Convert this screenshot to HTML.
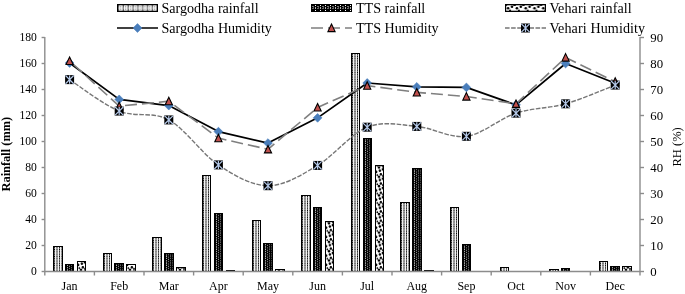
<!DOCTYPE html>
<html><head><meta charset="utf-8"><style>
html,body{margin:0;padding:0;background:#fff;width:685px;height:294px;overflow:hidden}
svg{display:block;font-family:"Liberation Serif",serif;will-change:transform}
</style></head><body>
<svg width="685" height="294" viewBox="0 0 685 294"><defs>
<pattern id="pS" patternUnits="userSpaceOnUse" width="5" height="2.3">
<rect width="5" height="2.3" fill="#f2f2f2"/>
<rect x="0" y="0" width="1" height="2.3" fill="#999"/>
<rect x="0" y="0.6" width="1" height="1.1" fill="#000"/>
<rect x="2" y="0" width="2" height="2.3" fill="#d0d0d0"/>
<rect x="2" y="0.4" width="2" height="1.5" fill="#707070"/>
</pattern>
<pattern id="pT" patternUnits="userSpaceOnUse" width="20" height="2.3">
<rect width="20" height="2.3" fill="#000"/>
<rect x="1" y="0.3" width="1" height="1.1" fill="#e8e8e8"/>
<rect x="3" y="1.3" width="1" height="1" fill="#9a9a9a"/>
<rect x="5" y="0.2" width="1" height="1.1" fill="#8a8a8a"/>
<rect x="7" y="0.2" width="1" height="1.1" fill="#666"/>
</pattern>
<pattern id="pV" patternUnits="userSpaceOnUse" width="20" height="9.3">
<rect width="20" height="9.3" fill="#fff"/>
<circle cx="3.0" cy="0.2" r="1.25" fill="#000"/>
<circle cx="3.0" cy="9.5" r="1.25" fill="#000"/>
<circle cx="3.9" cy="3.3" r="1.25" fill="#000"/>
<circle cx="4.9" cy="6.9" r="1.25" fill="#000"/>
<circle cx="0" cy="4.5" r="1.4" fill="#000"/>
<circle cx="7" cy="1.9" r="1.4" fill="#000"/>
<circle cx="7" cy="8.4" r="1.0" fill="#000"/>
<circle cx="1.3" cy="7.6" r="0.9" fill="#000"/>
</pattern>
<pattern id="LS" patternUnits="userSpaceOnUse" width="4.85" height="20">
<rect width="4.85" height="20" fill="#fff"/>
<rect x="0" y="0" width="0.8" height="20" fill="#444"/>
<circle cx="0.4" cy="8" r="0.5" fill="#ccc"/>
<rect x="1.8" y="6.3" width="1.4" height="1.1" fill="#8a8a8a"/>
<rect x="1.8" y="8.6" width="1.4" height="1.1" fill="#8a8a8a"/>
<rect x="4.2" y="0" width="0.6" height="20" fill="#999"/>
</pattern>
<pattern id="LT" patternUnits="userSpaceOnUse" width="5" height="20">
<rect width="5" height="20" fill="#000"/>
<rect x="3" y="5" width="1" height="1" fill="#fff"/>
<rect x="3" y="10" width="1" height="1" fill="#fff"/>
<rect x="3" y="7" width="1" height="2" fill="#b0b0b0"/>
<rect x="0" y="6" width="2" height="1" fill="#777"/>
<rect x="0" y="8" width="2" height="1" fill="#666"/>
<rect x="1" y="7" width="1" height="1" fill="#555"/>
</pattern>
<pattern id="LV" patternUnits="userSpaceOnUse" width="8.8" height="20">
<rect width="8.8" height="20" fill="#fff"/>
<circle cx="1.9" cy="8.2" r="1.3" fill="#000"/>
<circle cx="5.8" cy="6.8" r="1.3" fill="#000"/>
<circle cx="3.9" cy="10.6" r="1.0" fill="#000"/>
<circle cx="8.0" cy="5.2" r="0.9" fill="#000"/>
<circle cx="0.2" cy="5.3" r="0.7" fill="#000"/>
</pattern>
</defs>
<rect x="53" y="246" width="10" height="26" fill="#000"/>
<rect transform="translate(54,0)" x="0" y="247" width="8" height="25" fill="url(#pS)"/>
<rect x="103" y="253" width="9" height="19" fill="#000"/>
<rect transform="translate(104,0)" x="0" y="254" width="7" height="18" fill="url(#pS)"/>
<rect x="152" y="237" width="10" height="35" fill="#000"/>
<rect transform="translate(153,0)" x="0" y="238" width="8" height="34" fill="url(#pS)"/>
<rect x="202" y="175" width="9" height="97" fill="#000"/>
<rect transform="translate(203,0)" x="0" y="176" width="7" height="96" fill="url(#pS)"/>
<rect x="252" y="220" width="9" height="52" fill="#000"/>
<rect transform="translate(253,0)" x="0" y="221" width="7" height="51" fill="url(#pS)"/>
<rect x="301" y="195" width="10" height="77" fill="#000"/>
<rect transform="translate(302,0)" x="0" y="196" width="8" height="76" fill="url(#pS)"/>
<rect x="351" y="53" width="9" height="219" fill="#000"/>
<rect transform="translate(352,0)" x="0" y="54" width="7" height="218" fill="url(#pS)"/>
<rect x="400" y="202" width="10" height="70" fill="#000"/>
<rect transform="translate(401,0)" x="0" y="203" width="8" height="69" fill="url(#pS)"/>
<rect x="450" y="207" width="9" height="65" fill="#000"/>
<rect transform="translate(451,0)" x="0" y="208" width="7" height="64" fill="url(#pS)"/>
<rect x="500" y="267" width="9" height="5" fill="#000"/>
<rect transform="translate(501,0)" x="0" y="268" width="7" height="4" fill="url(#pS)"/>
<rect x="549" y="269" width="10" height="3" fill="#000"/>
<rect transform="translate(550,0)" x="0" y="270" width="8" height="2" fill="url(#pS)"/>
<rect x="599" y="261" width="9" height="11" fill="#000"/>
<rect transform="translate(600,0)" x="0" y="262" width="7" height="10" fill="url(#pS)"/>
<rect x="65" y="264" width="9" height="8" fill="#000"/>
<rect transform="translate(66,0)" x="0" y="265" width="7" height="7" fill="url(#pT)"/>
<rect x="114" y="263" width="10" height="9" fill="#000"/>
<rect transform="translate(115,0)" x="0" y="264" width="8" height="8" fill="url(#pT)"/>
<rect x="164" y="253" width="10" height="19" fill="#000"/>
<rect transform="translate(165,0)" x="0" y="254" width="8" height="18" fill="url(#pT)"/>
<rect x="214" y="213" width="9" height="59" fill="#000"/>
<rect transform="translate(215,0)" x="0" y="214" width="7" height="58" fill="url(#pT)"/>
<rect x="263" y="243" width="10" height="29" fill="#000"/>
<rect transform="translate(264,0)" x="0" y="244" width="8" height="28" fill="url(#pT)"/>
<rect x="313" y="207" width="9" height="65" fill="#000"/>
<rect transform="translate(314,0)" x="0" y="208" width="7" height="64" fill="url(#pT)"/>
<rect x="363" y="138" width="9" height="134" fill="#000"/>
<rect transform="translate(364,0)" x="0" y="139" width="7" height="133" fill="url(#pT)"/>
<rect x="412" y="168" width="10" height="104" fill="#000"/>
<rect transform="translate(413,0)" x="0" y="169" width="8" height="103" fill="url(#pT)"/>
<rect x="462" y="244" width="9" height="28" fill="#000"/>
<rect transform="translate(463,0)" x="0" y="245" width="7" height="27" fill="url(#pT)"/>
<rect x="511" y="271" width="10" height="1" fill="#000"/>
<rect x="561" y="268" width="9" height="4" fill="#000"/>
<rect transform="translate(562,0)" x="0" y="269" width="7" height="3" fill="url(#pT)"/>
<rect x="610" y="266" width="10" height="6" fill="#000"/>
<rect transform="translate(611,0)" x="0" y="267" width="8" height="5" fill="url(#pT)"/>
<rect x="77" y="261" width="9" height="11" fill="#000"/>
<rect transform="translate(78,0)" x="0" y="262" width="7" height="10" fill="url(#pV)"/>
<rect x="126" y="264" width="10" height="8" fill="#000"/>
<rect transform="translate(127,0)" x="0" y="265" width="8" height="7" fill="url(#pV)"/>
<rect x="176" y="267" width="10" height="5" fill="#000"/>
<rect transform="translate(177,0)" x="0" y="268" width="8" height="4" fill="url(#pV)"/>
<rect x="226" y="270" width="9" height="2" fill="#000"/>
<rect x="275" y="269" width="10" height="3" fill="#000"/>
<rect transform="translate(276,0)" x="0" y="270" width="8" height="2" fill="url(#pV)"/>
<rect x="325" y="221" width="9" height="51" fill="#000"/>
<rect transform="translate(326,0)" x="0" y="222" width="7" height="50" fill="url(#pV)"/>
<rect x="375" y="165" width="9" height="107" fill="#000"/>
<rect transform="translate(376,0)" x="0" y="166" width="7" height="106" fill="url(#pV)"/>
<rect x="424" y="270" width="10" height="2" fill="#000"/>
<rect x="622" y="266" width="10" height="6" fill="#000"/>
<rect transform="translate(623,0)" x="0" y="267" width="8" height="5" fill="url(#pV)"/>
<g stroke="#8c8c8c" stroke-width="1.4" fill="none">
<line x1="44.8" y1="37" x2="44.8" y2="275.5"/>
<line x1="640" y1="37" x2="640" y2="275.5"/>
<line x1="44.8" y1="271.5" x2="640" y2="271.5"/>
<line x1="41.6" y1="271.5" x2="44.8" y2="271.5"/>
<line x1="41.6" y1="245.5" x2="44.8" y2="245.5"/>
<line x1="41.6" y1="219.5" x2="44.8" y2="219.5"/>
<line x1="41.6" y1="193.5" x2="44.8" y2="193.5"/>
<line x1="41.6" y1="167.5" x2="44.8" y2="167.5"/>
<line x1="41.6" y1="141.5" x2="44.8" y2="141.5"/>
<line x1="41.6" y1="115.5" x2="44.8" y2="115.5"/>
<line x1="41.6" y1="89.5" x2="44.8" y2="89.5"/>
<line x1="41.6" y1="63.5" x2="44.8" y2="63.5"/>
<line x1="41.6" y1="37.5" x2="44.8" y2="37.5"/>
<line x1="640" y1="271.5" x2="644" y2="271.5"/>
<line x1="640" y1="245.5" x2="644" y2="245.5"/>
<line x1="640" y1="219.5" x2="644" y2="219.5"/>
<line x1="640" y1="193.5" x2="644" y2="193.5"/>
<line x1="640" y1="167.5" x2="644" y2="167.5"/>
<line x1="640" y1="141.5" x2="644" y2="141.5"/>
<line x1="640" y1="115.5" x2="644" y2="115.5"/>
<line x1="640" y1="89.5" x2="644" y2="89.5"/>
<line x1="640" y1="63.5" x2="644" y2="63.5"/>
<line x1="640" y1="37.5" x2="644" y2="37.5"/>
<line x1="94.4" y1="271.5" x2="94.4" y2="275.5"/>
<line x1="144" y1="271.5" x2="144" y2="275.5"/>
<line x1="193.6" y1="271.5" x2="193.6" y2="275.5"/>
<line x1="243.2" y1="271.5" x2="243.2" y2="275.5"/>
<line x1="292.8" y1="271.5" x2="292.8" y2="275.5"/>
<line x1="342.4" y1="271.5" x2="342.4" y2="275.5"/>
<line x1="392" y1="271.5" x2="392" y2="275.5"/>
<line x1="441.6" y1="271.5" x2="441.6" y2="275.5"/>
<line x1="491.2" y1="271.5" x2="491.2" y2="275.5"/>
<line x1="540.8" y1="271.5" x2="540.8" y2="275.5"/>
<line x1="590.4" y1="271.5" x2="590.4" y2="275.5"/>
</g>
<polyline fill="none" stroke="#000" stroke-width="1.7" stroke-linejoin="round" points="69.6,62.98 119.2,99.38 168.8,105.62 218.4,131.62 268,143.06 317.6,117.84 367.2,83 416.8,86.9 466.4,87.42 516,104.84 565.6,63.5 615.2,83.26"/>
<polyline fill="none" stroke="#7f7f7f" stroke-width="1.6" stroke-dasharray="12 5" stroke-dashoffset="-5" points="69.6,60.9 119.2,106.14 168.8,101.2 218.4,138.12 268,149.3 317.6,107.44 367.2,85.6 416.8,92.36 466.4,96.52 516,103.8 565.6,57.52 615.2,81.7"/>
<path fill="none" stroke="#767676" stroke-width="1.4" stroke-dasharray="4.6 1.5" d="M69.6,79.62 C77.87,84.86 102.67,104.36 119.2,111.08 C135.73,117.8 152.27,110.95 168.8,119.92 C185.33,128.89 201.87,153.94 218.4,164.9 C234.93,175.86 251.47,185.61 268,185.7 C284.53,185.79 301.07,175.17 317.6,165.42 C334.13,155.67 350.67,133.7 367.2,127.2 C383.73,120.7 400.27,124.9 416.8,126.42 C433.33,127.94 449.87,138.51 466.4,136.3 C482.93,134.09 499.47,118.58 516,113.16 C532.53,107.74 549.07,108.48 565.6,103.8 C582.13,99.12 606.93,88.2 615.2,85.08"/>
<path d="M69.6,58.58 L74,62.98 L69.6,67.38 L65.2,62.98Z" fill="#4a7ebb" stroke="#4a7ebb" stroke-width="0.6"/>
<path d="M119.2,94.98 L123.6,99.38 L119.2,103.78 L114.8,99.38Z" fill="#4a7ebb" stroke="#4a7ebb" stroke-width="0.6"/>
<path d="M168.8,101.22 L173.2,105.62 L168.8,110.02 L164.4,105.62Z" fill="#4a7ebb" stroke="#4a7ebb" stroke-width="0.6"/>
<path d="M218.4,127.22 L222.8,131.62 L218.4,136.02 L214,131.62Z" fill="#4a7ebb" stroke="#4a7ebb" stroke-width="0.6"/>
<path d="M268,138.66 L272.4,143.06 L268,147.46 L263.6,143.06Z" fill="#4a7ebb" stroke="#4a7ebb" stroke-width="0.6"/>
<path d="M317.6,113.44 L322,117.84 L317.6,122.24 L313.2,117.84Z" fill="#4a7ebb" stroke="#4a7ebb" stroke-width="0.6"/>
<path d="M367.2,78.6 L371.6,83 L367.2,87.4 L362.8,83Z" fill="#4a7ebb" stroke="#4a7ebb" stroke-width="0.6"/>
<path d="M416.8,82.5 L421.2,86.9 L416.8,91.3 L412.4,86.9Z" fill="#4a7ebb" stroke="#4a7ebb" stroke-width="0.6"/>
<path d="M466.4,83.02 L470.8,87.42 L466.4,91.82 L462,87.42Z" fill="#4a7ebb" stroke="#4a7ebb" stroke-width="0.6"/>
<path d="M516,100.44 L520.4,104.84 L516,109.24 L511.6,104.84Z" fill="#4a7ebb" stroke="#4a7ebb" stroke-width="0.6"/>
<path d="M565.6,59.1 L570,63.5 L565.6,67.9 L561.2,63.5Z" fill="#4a7ebb" stroke="#4a7ebb" stroke-width="0.6"/>
<path d="M615.2,78.86 L619.6,83.26 L615.2,87.66 L610.8,83.26Z" fill="#4a7ebb" stroke="#4a7ebb" stroke-width="0.6"/>
<path d="M69.6,57 L73.2,64.5 L66,64.5Z" fill="#c0504d" stroke="#000" stroke-width="1.1" stroke-linejoin="miter"/>
<path d="M119.2,102.24 L122.8,109.74 L115.6,109.74Z" fill="#c0504d" stroke="#000" stroke-width="1.1" stroke-linejoin="miter"/>
<path d="M168.8,97.3 L172.4,104.8 L165.2,104.8Z" fill="#c0504d" stroke="#000" stroke-width="1.1" stroke-linejoin="miter"/>
<path d="M218.4,134.22 L222,141.72 L214.8,141.72Z" fill="#c0504d" stroke="#000" stroke-width="1.1" stroke-linejoin="miter"/>
<path d="M268,145.4 L271.6,152.9 L264.4,152.9Z" fill="#c0504d" stroke="#000" stroke-width="1.1" stroke-linejoin="miter"/>
<path d="M317.6,103.54 L321.2,111.04 L314,111.04Z" fill="#c0504d" stroke="#000" stroke-width="1.1" stroke-linejoin="miter"/>
<path d="M367.2,81.7 L370.8,89.2 L363.6,89.2Z" fill="#c0504d" stroke="#000" stroke-width="1.1" stroke-linejoin="miter"/>
<path d="M416.8,88.46 L420.4,95.96 L413.2,95.96Z" fill="#c0504d" stroke="#000" stroke-width="1.1" stroke-linejoin="miter"/>
<path d="M466.4,92.62 L470,100.12 L462.8,100.12Z" fill="#c0504d" stroke="#000" stroke-width="1.1" stroke-linejoin="miter"/>
<path d="M516,99.9 L519.6,107.4 L512.4,107.4Z" fill="#c0504d" stroke="#000" stroke-width="1.1" stroke-linejoin="miter"/>
<path d="M565.6,53.62 L569.2,61.12 L562,61.12Z" fill="#c0504d" stroke="#000" stroke-width="1.1" stroke-linejoin="miter"/>
<path d="M615.2,77.8 L618.8,85.3 L611.6,85.3Z" fill="#c0504d" stroke="#000" stroke-width="1.1" stroke-linejoin="miter"/>
<rect x="65.1" y="75.12" width="9" height="9" fill="#000"/><path d="M65.5,75.52 L73.7,83.72 M73.7,75.52 L65.5,83.72 M69.6,75.52 L69.6,83.72" stroke="#b4c8e8" stroke-width="1.2"/>
<rect x="114.7" y="106.58" width="9" height="9" fill="#000"/><path d="M115.1,106.98 L123.3,115.18 M123.3,106.98 L115.1,115.18 M119.2,106.98 L119.2,115.18" stroke="#b4c8e8" stroke-width="1.2"/>
<rect x="164.3" y="115.42" width="9" height="9" fill="#000"/><path d="M164.7,115.82 L172.9,124.02 M172.9,115.82 L164.7,124.02 M168.8,115.82 L168.8,124.02" stroke="#b4c8e8" stroke-width="1.2"/>
<rect x="213.9" y="160.4" width="9" height="9" fill="#000"/><path d="M214.3,160.8 L222.5,169 M222.5,160.8 L214.3,169 M218.4,160.8 L218.4,169" stroke="#b4c8e8" stroke-width="1.2"/>
<rect x="263.5" y="181.2" width="9" height="9" fill="#000"/><path d="M263.9,181.6 L272.1,189.8 M272.1,181.6 L263.9,189.8 M268,181.6 L268,189.8" stroke="#b4c8e8" stroke-width="1.2"/>
<rect x="313.1" y="160.92" width="9" height="9" fill="#000"/><path d="M313.5,161.32 L321.7,169.52 M321.7,161.32 L313.5,169.52 M317.6,161.32 L317.6,169.52" stroke="#b4c8e8" stroke-width="1.2"/>
<rect x="362.7" y="122.7" width="9" height="9" fill="#000"/><path d="M363.1,123.1 L371.3,131.3 M371.3,123.1 L363.1,131.3 M367.2,123.1 L367.2,131.3" stroke="#b4c8e8" stroke-width="1.2"/>
<rect x="412.3" y="121.92" width="9" height="9" fill="#000"/><path d="M412.7,122.32 L420.9,130.52 M420.9,122.32 L412.7,130.52 M416.8,122.32 L416.8,130.52" stroke="#b4c8e8" stroke-width="1.2"/>
<rect x="461.9" y="131.8" width="9" height="9" fill="#000"/><path d="M462.3,132.2 L470.5,140.4 M470.5,132.2 L462.3,140.4 M466.4,132.2 L466.4,140.4" stroke="#b4c8e8" stroke-width="1.2"/>
<rect x="511.5" y="108.66" width="9" height="9" fill="#000"/><path d="M511.9,109.06 L520.1,117.26 M520.1,109.06 L511.9,117.26 M516,109.06 L516,117.26" stroke="#b4c8e8" stroke-width="1.2"/>
<rect x="561.1" y="99.3" width="9" height="9" fill="#000"/><path d="M561.5,99.7 L569.7,107.9 M569.7,99.7 L561.5,107.9 M565.6,99.7 L565.6,107.9" stroke="#b4c8e8" stroke-width="1.2"/>
<rect x="610.7" y="80.58" width="9" height="9" fill="#000"/><path d="M611.1,80.98 L619.3,89.18 M619.3,80.98 L611.1,89.18 M615.2,80.98 L615.2,89.18" stroke="#b4c8e8" stroke-width="1.2"/>
<g font-family="Liberation Serif"  font-size="11.6" fill="#000" text-anchor="end">
<text x="36.9" y="275.2">0</text>
<text x="36.9" y="249.2">20</text>
<text x="36.9" y="223.2">40</text>
<text x="36.9" y="197.2">60</text>
<text x="36.9" y="171.2">80</text>
<text x="36.9" y="145.2">100</text>
<text x="36.9" y="119.2">120</text>
<text x="36.9" y="93.2">140</text>
<text x="36.9" y="67.2">160</text>
<text x="36.9" y="41.2">180</text>
</g>
<g font-family="Liberation Serif"  font-size="12.8" fill="#000" text-anchor="start">
<text x="650.3" y="275.6">0</text>
<text x="650.3" y="249.6">10</text>
<text x="650.3" y="223.6">20</text>
<text x="650.3" y="197.6">30</text>
<text x="650.3" y="171.6">40</text>
<text x="650.3" y="145.6">50</text>
<text x="650.3" y="119.6">60</text>
<text x="650.3" y="93.6">70</text>
<text x="650.3" y="67.6">80</text>
<text x="650.3" y="41.6">90</text>
</g>
<g font-family="Liberation Serif"  font-size="12" fill="#000" text-anchor="middle">
<text x="69.6" y="290">Jan</text>
<text x="119.2" y="290">Feb</text>
<text x="168.8" y="290">Mar</text>
<text x="218.4" y="290">Apr</text>
<text x="268" y="290">May</text>
<text x="317.6" y="290">Jun</text>
<text x="367.2" y="290">Jul</text>
<text x="416.8" y="290">Aug</text>
<text x="466.4" y="290">Sep</text>
<text x="516" y="290">Oct</text>
<text x="565.6" y="290">Nov</text>
<text x="615.2" y="290">Dec</text>
</g>
<text font-family="Liberation Serif"  font-size="12.4" font-weight="bold" transform="translate(10.2,191.5) rotate(-90)">Rainfall (mm)</text>
<text font-family="Liberation Serif"  font-size="12.5" transform="translate(680.5,166.5) rotate(-90)">RH (%)</text>
<rect x="117" y="4" width="41" height="8" fill="#000"/>
<rect transform="translate(118.2,0)" x="0" y="5.3" width="38.6" height="5.4" fill="url(#LS)"/>
<text font-family="Liberation Serif"  font-size="14.1" letter-spacing="0" x="161.4" y="13">Sargodha rainfall</text>
<text font-family="Liberation Serif"  font-size="14.1" letter-spacing="0" x="161.4" y="33">Sargodha Humidity</text>
<rect x="311" y="4" width="41" height="8" fill="#000"/>
<rect transform="translate(312,0)" x="0" y="5" width="39" height="6" fill="url(#LT)"/>
<text font-family="Liberation Serif"  font-size="14.1" letter-spacing="0" x="356" y="13">TTS rainfall</text>
<text font-family="Liberation Serif"  font-size="14.1" letter-spacing="0" x="356" y="33">TTS Humidity</text>
<rect x="505" y="4" width="41" height="8" fill="#000"/>
<rect transform="translate(506.2,0)" x="0" y="5.3" width="38.6" height="5.4" fill="url(#LV)"/>
<text font-family="Liberation Serif"  font-size="14.1" letter-spacing="0.1" x="549.4" y="13">Vehari rainfall</text>
<text font-family="Liberation Serif"  font-size="14.1" letter-spacing="0.1" x="549.4" y="33">Vehari Humidity</text>
<line x1="117" y1="28" x2="158" y2="28" stroke="#000" stroke-width="1.7"/>
<path d="M137.5,23.6 L141.9,28 L137.5,32.4 L133.1,28Z" fill="#4a7ebb" stroke="#4a7ebb" stroke-width="0.6"/>
<line x1="311" y1="28" x2="352" y2="28" stroke="#7f7f7f" stroke-width="1.6" stroke-dasharray="12 5"/>
<path d="M331.5,24.1 L335.1,31.6 L327.9,31.6Z" fill="#c0504d" stroke="#000" stroke-width="1.1" stroke-linejoin="miter"/>
<line x1="505" y1="28" x2="546" y2="28" stroke="#767676" stroke-width="1.4" stroke-dasharray="4.6 1.5"/>
<rect x="521" y="23.5" width="9" height="9" fill="#000"/><path d="M521.4,23.9 L529.6,32.1 M529.6,23.9 L521.4,32.1 M525.5,23.9 L525.5,32.1" stroke="#b4c8e8" stroke-width="1.2"/></svg>
</body></html>
